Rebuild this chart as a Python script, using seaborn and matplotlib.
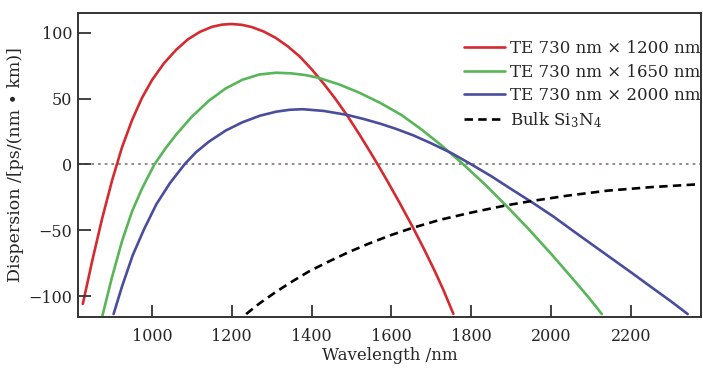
import numpy as np
import pandas as pd
import matplotlib
matplotlib.use("Agg")
import matplotlib.pyplot as plt
import seaborn as sns

# Data (wavelength nm, dispersion ps/(nm km))
red_wl = [827, 850, 875, 900, 925, 950, 975, 1000, 1030, 1061, 1090, 1120, 1150, 1175, 1198,
          1225, 1250, 1280, 1310, 1340, 1370, 1400, 1430, 1460, 1490, 1520, 1545, 1565, 1590,
          1620, 1652, 1680, 1707, 1730, 1755]
red_d = [-106, -74, -41.6, -12.5, 12.8, 33.4, 50.4, 63.9, 76.7, 87.1, 94.9, 100.6, 104.4, 106.1, 106.6,
         106.0, 104.3, 100.9, 96.1, 89.7, 82.0, 72.3, 61.4, 49.6, 36.7, 22.6, 10.3, 0.2, -12.8,
         -29.0, -46.9, -63.4, -80.1, -95.3, -113.5]

green_wl = [876, 900, 925, 950, 975, 1006, 1035, 1061, 1100, 1143, 1185, 1227, 1270, 1311, 1350,
            1385, 1419, 1470, 1519, 1573, 1625, 1673, 1725, 1780, 1835, 1886, 1940, 2000, 2060,
            2095, 2127]
green_d = [-115, -85.8, -58.5, -36, -18.5, -0.2, 12.5, 22.7, 36.2, 48.4, 57.7, 64.3, 68.3, 69.6, 69.1,
           67.8, 65.6, 60.6, 54.5, 46.5, 37.5, 27, 14.5, 0, -15.5, -31, -48, -68, -89,
           -101.5, -113.7]

blue_wl = [904, 925, 952, 980, 1011, 1045, 1082, 1110, 1143, 1185, 1227, 1270, 1311, 1345, 1377,
           1430, 1490, 1530, 1573, 1611, 1655, 1698, 1750, 1800, 1850, 1900, 1952, 2005, 2057,
           2110, 2157, 2200, 2257, 2300, 2342]
blue_d = [-113.7, -92.9, -69, -49.5, -30.4, -14.3, 0.1, 9.1, 17.3, 25.7, 32, 36.9, 40, 41.45, 41.9,
          40.6, 37.5, 34.5, 30.8, 27, 22, 16.2, 8.6, 0, -9, -18.8, -28.8, -39.5, -51,
          -62.5, -72.7, -82, -94.6, -104, -113.7]

bulk_wl = [1236, 1270, 1311, 1350, 1394, 1445, 1494, 1545, 1598, 1652, 1723, 1800, 1886, 1952,
           2040, 2140, 2250, 2365]
bulk_d = [-113.7, -105.5, -96.8, -89.2, -81.2, -73.5, -66.5, -60, -53.8, -48.3, -42, -36.6, -31.2, -27.8,
          -23.8, -20, -17.3, -15.2]

labels = ["TE 730 nm \u00d7 1200 nm", "TE 730 nm \u00d7 1650 nm",
          "TE 730 nm \u00d7 2000 nm", "Bulk Si$_3$N$_4$"]
xticks = [1000, 1200, 1400, 1600, 1800, 2000, 2200]
yticks = [-100, -50, 0, 50, 100]

sns.set_style("ticks")
plt.rcParams["font.family"] = ["DejaVu Serif"]
plt.rcParams["mathtext.fontset"] = "dejavuserif"
plt.rcParams["axes.axisbelow"] = False
plt.rcParams["xtick.direction"] = "in"
plt.rcParams["ytick.direction"] = "in"

fig = plt.figure(figsize=(7.03, 3.70), dpi=100)
ax = fig.add_axes([0.111, 0.143, 0.886, 0.822])

ax.axhline(0, color="#8a8080", lw=1.3, ls=(0, (1.5, 2.2)), zorder=1)

sns.lineplot(x=red_wl, y=red_d, ax=ax, color="#d42a30", lw=1.9, label=labels[0], sort=False)
sns.lineplot(x=green_wl, y=green_d, ax=ax, color="#58b558", lw=1.9, label=labels[1], sort=False)
sns.lineplot(x=blue_wl, y=blue_d, ax=ax, color="#4a4c9c", lw=1.9, label=labels[2], sort=False)
sns.lineplot(x=bulk_wl, y=bulk_d, ax=ax, color="black", lw=1.9, ls=(0, (3.2, 2)), label=labels[3], sort=False)

ax.set_xlim(815, 2375)
ax.set_ylim(-116, 115)
ax.set_xticks(xticks)
ax.set_yticks(yticks)
ax.set_axisbelow(False)
ax.tick_params(which="major", bottom=True, left=True, direction="in", length=9, width=1.3,
               labelsize=11.5, color="#333333")
ax.tick_params(axis="x", pad=8)
ax.tick_params(axis="y", pad=4)
for s in ax.spines.values():
    s.set_linewidth(1.4)
    s.set_color("#333333")

ax.set_xlabel("Wavelength /nm", fontsize=12, labelpad=1)
ax.set_ylabel("Dispersion /[ps/(nm \u2022 km)]", fontsize=12.5, labelpad=3)

ax.legend(loc="upper right", bbox_to_anchor=(1.0, 0.91), frameon=False, fontsize=12,
          handlelength=2.5, handletextpad=0.3, labelspacing=0.38, borderaxespad=0, borderpad=0)

fig.savefig("out.png", dpi=100)
